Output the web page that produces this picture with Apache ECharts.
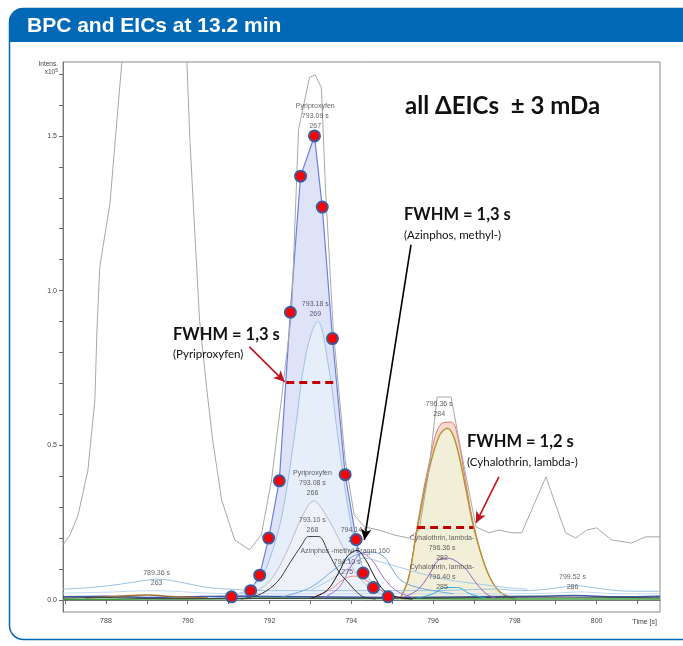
<!DOCTYPE html>
<html><head><meta charset="utf-8">
<script src="https://cdn.jsdelivr.net/npm/echarts@6/dist/echarts.min.js"></script>
<style>html,body{margin:0;padding:0;background:#fff}#c{width:683px;height:646px}</style>
</head><body><div id="c"></div>
<script>
// ---- axis ticks ----
const xTicks = [787,788,789,790,791,792,793,794,795,796,797,798,799,800,801];
const xLabels = [788,790,792,794,796,798,800];
const yTicks = [0,0.1,0.2,0.3,0.4,0.5,0.6,0.7,0.8,0.9,1.0,1.1,1.2,1.3,1.4,1.5,1.6,1.7];
const yLabels = [0,0.5,1.0,1.5];

// ---- BPC (grey) ----
const bpcTimes = [786.95,787.12,787.32,787.56,787.73,787.78,787.85,788.10,788.27,788.39,788.7,789.2,789.7,789.98,790.05,790.17,790.29,790.46,790.61,790.83,791.15,791.51,791.8,792.05,792.29,792.54,792.71,792.98,793.12,793.27,793.37,793.56,793.85,794.07,794.32,794.68,795.05,795.41,795.66,795.9,796.1,796.44,796.68,797.05,797.37,797.61,797.93,798.17,798.76,799.24,799.49,799.76,800.0,800.37,800.85,801.2,801.55];
const bpcVals  = [0.178,0.21,0.275,0.42,0.647,0.873,1.077,1.284,1.552,1.739,2.3,2.6,2.3,1.739,1.497,1.196,0.905,0.689,0.517,0.323,0.194,0.162,0.21,0.388,0.647,0.928,1.52,1.69,1.697,1.655,1.326,0.873,0.453,0.275,0.236,0.226,0.21,0.2,0.226,0.42,0.656,0.656,0.485,0.236,0.217,0.226,0.217,0.217,0.398,0.217,0.2,0.226,0.233,0.194,0.184,0.204,0.204];

// ---- Pyriproxyfen EIC 267 (dotted trace) ----
const pyr267Times = [791.07,791.54,791.76,791.98,792.24,792.51,792.76,793.10,793.29,793.54,793.85,794.12,794.29,794.54,794.90];
const pyr267Vals  = [0.01,0.03,0.08,0.20,0.385,0.93,1.37,1.50,1.27,0.845,0.405,0.195,0.087,0.04,0.01];
// ---- Pyriproxyfen 269 ----
const pyr269Times = [790.5,791.0,791.5,791.8,792.0,792.3,792.6,792.9,793.18,793.45,793.7,794.0,794.3,794.6,795.0,795.5];
const pyr269Vals  = [0.004,0.012,0.035,0.075,0.13,0.27,0.52,0.80,0.90,0.75,0.50,0.24,0.10,0.045,0.015,0.004];
// ---- Pyriproxyfen 266 ----
const pyr266Times = [790.5,791.5,792.0,792.4,792.8,793.08,793.4,793.8,794.2,794.8,795.5];
const pyr266Vals  = [0.003,0.02,0.06,0.15,0.27,0.32,0.27,0.17,0.07,0.015,0.003];
// ---- 268 (dark) ----
const tr268Times = [791.3,791.8,792.2,792.5,792.8,792.95,793.2,793.45,793.7,793.9,794.1,794.3,794.6];
const tr268Vals  = [0.003,0.02,0.06,0.12,0.18,0.205,0.205,0.15,0.09,0.06,0.03,0.01,0.003];
// ---- Azinphos-methyl (black) ----
const azmTimes = [793.0,793.4,793.7,793.9,794.14,794.35,794.55,794.8,795.1,795.5];
const azmVals  = [0.005,0.03,0.09,0.14,0.16,0.13,0.08,0.03,0.01,0.003];
// ---- Azinphos-methyl purple ----
const azpTimes = [793.3,793.7,794.0,794.25,794.5,794.8,795.1,795.5];
const azpVals  = [0.005,0.04,0.11,0.15,0.13,0.07,0.03,0.008];
// ---- 275 salmon ----
const tr275Times = [793.0,793.5,793.85,794.1,794.4,794.8,795.2];
const tr275Vals  = [0.005,0.035,0.07,0.077,0.06,0.025,0.005];
// ---- light blue traces ----
const lbATimes = [792.3,793.0,793.6,794.1,794.5,794.8,795.0,795.2,795.5,796.0,796.5];
const lbAVals  = [0.01,0.04,0.10,0.145,0.155,0.14,0.10,0.065,0.045,0.03,0.02];
const lbBTimes = [793.0,793.8,794.3,794.8,795.4,796.0,796.6,797.2,797.8,798.3];
const lbBVals  = [0.03,0.09,0.135,0.12,0.097,0.075,0.06,0.05,0.04,0.035];
// ---- Cyhalothrin 284 (pink) / 282 (olive) / 285 (purple) / cyan ----
const cyh284Times = [795.2,795.4,795.6,795.9,796.2,796.45,796.6,796.8,797.0,797.3,797.6,798.0];
const cyh284Vals  = [0.005,0.07,0.23,0.44,0.57,0.575,0.53,0.38,0.24,0.10,0.03,0.003];
const cyh282Times = [795.2,795.4,795.6,795.9,796.15,796.35,796.55,796.8,797.0,797.3,797.6,798.0];
const cyh282Vals  = [0.005,0.07,0.22,0.42,0.53,0.555,0.51,0.36,0.23,0.10,0.03,0.003];
const cyh285Times = [795.2,795.6,795.9,796.1,796.3,796.5,796.8,797.05,797.3,797.55];
const cyh285Vals  = [0.005,0.03,0.08,0.125,0.135,0.13,0.10,0.055,0.02,0.005];
const cyanTimes = [795.6,796.0,796.3,796.6,796.9,797.3];
const cyanVals  = [0.005,0.02,0.04,0.04,0.02,0.005];
// ---- baseline traces ----
const base1Times = [786.95,787.6,788.3,788.9,789.3,789.8,790.4,791.0,792.0,794.0,796.0,797.5,798.2,798.8,799.2,799.5,799.9,800.5,801.0,801.55];
const base1Vals  = [0.035,0.04,0.05,0.062,0.067,0.058,0.042,0.035,0.03,0.03,0.03,0.035,0.03,0.035,0.042,0.046,0.04,0.03,0.028,0.028];
const base2Times = [786.95,788.0,789.2,790.5,792.0,795.0,797.5,799.0,799.6,800.5,801.55];
const base2Vals  = [0.022,0.025,0.03,0.022,0.02,0.02,0.02,0.022,0.026,0.02,0.02];
const greenTimes = [786.95,789.0,791.0,792.0,794.0,796.0,798.0,800.0,801.55];
const greenVals  = [0.002,0.003,0.004,0.006,0.005,0.004,0.003,0.003,0.003];
const dblueTimes = [786.95,788.0,789.0,790.0,791.0,795.0,797.0,798.5,799.5,800.5,801.55];
const dblueVals  = [0.01,0.012,0.008,0.01,0.012,0.008,0.01,0.012,0.014,0.01,0.012];
const brownTimes = [787.5,788.3,789.0,789.7,790.5];
const brownVals  = [0.006,0.012,0.016,0.01,0.006];
const darkTimes = [786.95,787.8,789.5,791.5,795.5,799.0,801.55];
const darkVals  = [0.006,0.008,0.004,0.005,0.006,0.009,0.007];

// ---- peak labels [time, value, text] ----
const peakLabels = [
  [793.12,1.565,'Pyriproxyfen\n793.09 s\n267'],
  [793.12,0.94,'793.18 s\n269'],
  [793.05,0.378,'Pyriproxyfen\n793.08 s\n266'],
  [793.05,0.243,'793.10 s\n268'],
  [794.07,0.21,'794.14 s\n274'],
  [793.85,0.158,'Azinphos -methyl Fragm 160'],
  [793.9,0.105,'794.10 s\n275'],
  [796.15,0.617,'796.36 s\n284'],
  [796.22,0.168,'Cyhalothrin, lambda-\n796.36 s\n282'],
  [796.22,0.074,'Cyhalothrin, lambda-\n796.40 s\n285'],
  [789.24,0.071,'789.36 s\n263'],
  [799.41,0.058,'799.52 s\n286']
];
// ---- annotations (data units) ----
const fwhmLines = [[792.41,793.63,0.705],[795.61,796.98,0.236]];
const arrows = [
  [795.46,1.148,794.32,0.194,'#000000'],
  [791.51,0.818,792.37,0.705,'#c0141c'],
  [797.61,0.398,797.05,0.249,'#c0141c']
];

const P = (t,v)=>t.map((x,i)=>[x,v[i]]);
const ln = (name,t,v,color,extra)=>Object.assign({
  name, type:'line', data:P(t,v), showSymbol:false, smooth:0.35,
  lineStyle:{color, width:1}, itemStyle:{color}, silent:true
}, extra||{});

const series = [
  ln('267',pyr267Times,pyr267Vals,'#6b7fe0',{smooth:false,areaStyle:{color:'#dfe3f8',opacity:1},lineStyle:{color:'#6b7fe0',width:1.2},z:2}),
  ln('269',pyr269Times,pyr269Vals,'#9fc2e6',{areaStyle:{color:'#e5eef9',opacity:1},z:3}),
  ln('266',pyr266Times,pyr266Vals,'#bcbcc4',{areaStyle:{color:'#eef2f8',opacity:1},z:3}),
  ln('284',cyh284Times,cyh284Vals,'#e07a70',{areaStyle:{color:'#f6d9cf',opacity:1},z:3}),
  ln('282',cyh282Times,cyh282Vals,'#b8922c',{areaStyle:{color:'#f2efd8',opacity:1},lineStyle:{color:'#b8922c',width:1.4},z:3}),
  ln('bpc',bpcTimes,bpcVals,'#a8a8a8',{smooth:false,z:4}),
  ln('base1',base1Times,base1Vals,'#9cc3e6',{z:4}),
  ln('base2',base2Times,base2Vals,'#c4daf0',{z:4}),
  ln('green',greenTimes,greenVals,'#3c9c3c',{z:4,lineStyle:{color:'#3c9c3c',width:1.5}}),
  ln('dblue',dblueTimes,dblueVals,'#3a5aa8',{z:4,lineStyle:{color:'#3a5aa8',width:1.5}}),
  ln('brown',brownTimes,brownVals,'#a0703a',{z:4,lineStyle:{color:'#a0703a',width:1.5}}),
  ln('dark',darkTimes,darkVals,'#404040',{z:4}),
  ln('lbB',lbBTimes,lbBVals,'#a9cbe8',{z:5}),
  ln('lbA',lbATimes,lbAVals,'#6fa8dc',{z:5}),
  ln('275',tr275Times,tr275Vals,'#f09090',{z:5}),
  ln('azp',azpTimes,azpVals,'#a070d8',{z:5}),
  ln('285',cyh285Times,cyh285Vals,'#9a60c8',{z:5}),
  ln('cyan',cyanTimes,cyanVals,'#30a8e0',{z:5}),
  ln('268',tr268Times,tr268Vals,'#3a3a3a',{z:5}),
  ln('azm',azmTimes,azmVals,'#111111',{z:5}),
  {name:'dots', type:'scatter', data:P(pyr267Times,pyr267Vals), symbol:'circle', symbolSize:11, z:8, silent:true,
   itemStyle:{color:'#ff0000', borderColor:'#3f5a9a', borderWidth:2, opacity:1}},
  {name:'labels', type:'scatter', data:peakLabels, symbolSize:0, z:7, silent:true,
   label:{show:true, position:'inside', formatter:p=>p.data[2], fontSize:7, lineHeight:10, color:'#3a3a3a', fontFamily:'Liberation Sans'}},
  {name:'annot', type:'line', data:[], z:9, silent:true,
   markLine:{silent:true, animation:false, symbol:['none','none'], label:{show:false},
     data: fwhmLines.map(f=>[{coord:[f[0],f[2]], lineStyle:{color:'#c00000',width:3,type:[8,5]}},{coord:[f[1],f[2]]}])}},
  {name:'arrows', type:'line', data:[], z:9, silent:true,
   markLine:{silent:true, animation:false, symbol:['none','arrow'], symbolSize:[8,11], label:{show:false},
     data: arrows.map(a=>[{coord:[a[0],a[1]], lineStyle:{color:a[4],width:1.6,type:'solid'}, itemStyle:{color:a[4]}},{coord:[a[2],a[3]]}])}}
];

const txt = (x,y,text,size,weight,extra)=>({type:'text', x, y, z:100, silent:true,
  style:Object.assign({text, fontSize:size, fontWeight:weight, fontFamily:'Lato', fill:'#111', verticalAlign:'middle'}, extra||{})});

const option = {
  animation:false,
  backgroundColor:'#fff',
  grid:{left:63, top:62, width:597, height:550, show:true, borderColor:'#8a8a8a', borderWidth:1, backgroundColor:'#fff'},
  xAxis:{type:'value', min:786.95, max:801.55,
    axisLine:{show:true, lineStyle:{color:'#777'}},
    axisTick:{show:true, length:4, customValues:xTicks, lineStyle:{color:'#666'}},
    axisLabel:{customValues:xLabels, fontSize:7, color:'#444', margin:6, fontFamily:'Liberation Sans'},
    splitLine:{show:false}},
  yAxis:{type:'value', min:-0.039, max:1.739,
    axisLine:{show:true, lineStyle:{color:'#777'}},
    axisTick:{show:true, length:4, customValues:yTicks, lineStyle:{color:'#666'}},
    axisLabel:{customValues:yLabels, fontSize:7, color:'#444', margin:6, fontFamily:'Liberation Sans', formatter:v=>v.toFixed(1)},
    splitLine:{show:false}},
  graphic:[
    {type:'rect', z:-10, silent:true, shape:{x:9.5, y:8.5, width:690, height:631, r:14}, style:{fill:'#fff', stroke:'#0068b4', lineWidth:1.5}},
    {type:'rect', z:-9, silent:true, shape:{x:9, y:8, width:690, height:34, r:[14,14,0,0]}, style:{fill:'#0068b4'}},
    {type:'text', x:27, y:26, z:100, silent:true, style:{text:'BPC and EICs at 13.2 min', fill:'#fff', fontSize:21, fontWeight:'bold', fontFamily:'Liberation Sans', verticalAlign:'middle'}},
    {type:'text', x:58, y:68, z:100, silent:true, style:{text:'Intens.\nx10{s|5}', fill:'#444', fontSize:6.5, fontFamily:'Liberation Sans', align:'right', verticalAlign:'middle', lineHeight:8, rich:{s:{fontSize:5, verticalAlign:'top', fill:'#444'}}}},
    {type:'text', x:657, y:622, z:100, silent:true, style:{text:'Time [s]', fill:'#444', fontSize:7, fontFamily:'Liberation Sans', align:'right', verticalAlign:'middle'}},
    txt(405,106,'all \u0394EICs  \u00b1 3 mDa',24,'bold'),
    txt(404,215,'FWHM = 1,3 s',16.5,'bold'),
    txt(404,235,'(Azinphos, methyl-)',11.5,'normal'),
    txt(173,335,'FWHM = 1,3 s',16.5,'bold'),
    txt(173,354,'(Pyriproxyfen)',11.5,'normal'),
    txt(467,442,'FWHM = 1,2 s',16.5,'bold'),
    txt(467,462,'(Cyhalothrin, lambda-)',11.5,'normal')
  ],
  series
};
const chart = echarts.init(document.getElementById('c'));
chart.setOption(option);
</script></body></html>
